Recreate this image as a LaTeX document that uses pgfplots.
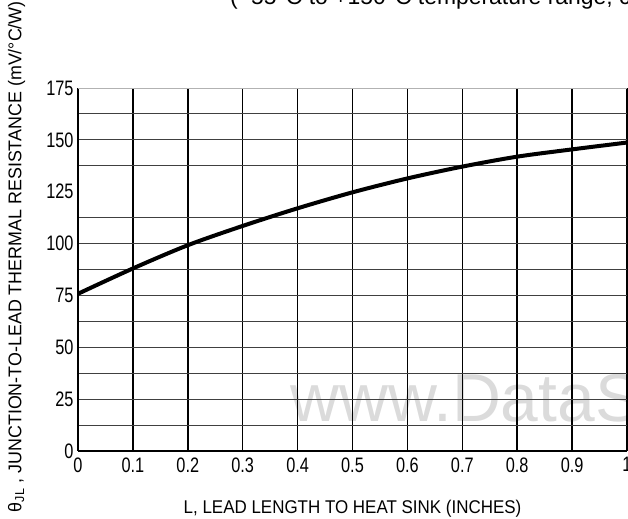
\documentclass[border=0pt]{standalone}
\usepackage{fontspec}
\setmainfont{Liberation Sans}
\newfontfamily\condfont{Liberation Sans}[FakeStretch=0.78]
\newfontfamily\labfont{Liberation Sans}[FakeStretch=0.92]
\newfontfamily\ylabfont{Liberation Sans}[FakeStretch=0.97]
\usepackage{pgfplots}
\pgfplotsset{compat=1.18}
\begin{document}
\begin{tikzpicture}[x=1bp,y=1bp]
\path[use as bounding box] (-78,-68) rectangle (550,451);
\clip (-78,-68) rectangle (550,451);
\node[anchor=base west, text=black!14, font=\fontsize{68}{68}\selectfont, inner sep=0] at (212,29) {www.DataS};
\node[anchor=base west, font=\fontsize{23}{23}\selectfont, inner sep=0] at (152,446) {(−55°C to +150°C temperature range; c};
\begin{axis}[
  at={(0,0)}, anchor=south west,
  scale only axis, width=549bp, height=363bp,
  xmin=0, xmax=1, ymin=0, ymax=175,
  axis x line*=bottom, axis y line*=left,
  axis line style={line width=2.4bp, -},
  xtick={0,0.1,...,1.01},
  xticklabels={0,0.1,0.2,0.3,0.4,0.5,0.6,0.7,0.8,0.9,1},
  ytick={0,25,50,75,100,125,150,175},
  minor ytick={12.5,25,37.5,50,62.5,75,87.5,100,112.5,137.5,150,162.5},
  xmajorgrids=true, yminorgrids=true, ymajorgrids=false,
  major grid style={black, line width=1.5bp},
  minor grid style={black!75, line width=0.9bp},
  extra y ticks={175}, extra y tick labels={},
  extra y tick style={grid=major, major grid style={black!30, line width=0.9bp}},
  major tick length=0pt, minor tick length=0pt,
  tick style={draw=none},
  /pgf/number format/assume math mode=true,
  tick label style={font=\condfont\fontsize{21}{21}\selectfont},
  xticklabel style={yshift=-3bp},
  yticklabel style={xshift=-1bp},
  xlabel={L, LEAD LENGTH TO HEAT SINK (INCHES)},
  xlabel style={font=\labfont\fontsize{18.5}{18.5}\selectfont, at={(axis description cs:0.5,-0.158)}, anchor=center},
  ylabel={θ\textsubscript{JL} , JUNCTION-TO-LEAD THERMAL RESISTANCE (mV/°C/W)},
  ylabel style={font=\ylabfont\fontsize{18.5}{18.5}\selectfont, at={(axis description cs:-0.112,-0.178)}, anchor=west, rotate=0},
  clip=false,
]
\addplot[black, line width=4bp, smooth] coordinates {
  (0,75.8) (0.1,88) (0.2,99.2) (0.3,108.5) (0.4,117) (0.5,124.7)
  (0.6,131.4) (0.7,137.1) (0.8,141.9) (0.9,145.4) (1,148.7)
};
\end{axis}
\end{tikzpicture}
\end{document}
